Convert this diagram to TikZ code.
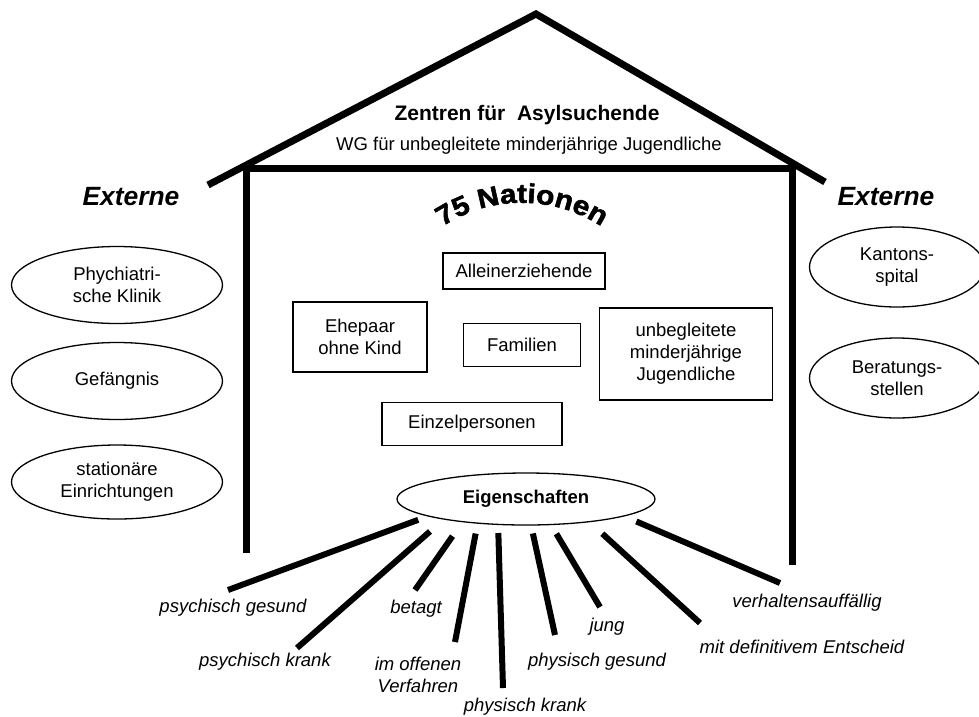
\documentclass[tikz,border=0pt]{standalone}
\usepackage{fontspec}
\setmainfont{Liberation Sans}
\newfontfamily\heavyfont[FakeBold=2,FakeStretch=1.1]{Liberation Sans Bold}
\usetikzlibrary{shapes.geometric,decorations.text}

\newcommand{\txtsize}{\fontsize{18.5}{22}\selectfont}

\begin{document}
\begin{tikzpicture}[x=1pt, y=-1pt, every node/.style={font=\txtsize},
	wall/.style={line width=7pt, line join=miter},
	grp/.style={draw, line width=1.8pt, inner sep=0pt, align=center},
	ext/.style={ellipse, draw, line width=1.3pt, inner sep=0pt, align=center, minimum width=211pt, minimum height=77pt},
	spoke/.style={line width=6pt},
	merkmal/.style={font=\txtsize\itshape, align=center}]
	\useasboundingbox (0,0) rectangle (979,716);
	% Haus
	\draw[wall] (208,185) -- (536,14) -- (825,182);
	\draw[wall] (246,553) -- (246,168) -- (792,168) -- (792,565);
	\node[font=\fontsize{21}{25}\selectfont\bfseries] (zentren) at (527,115) {Zentren für\ \ Asylsuchende};
	\node (wg) at (529,146) {WG für unbegleitete minderjährige Jugendliche};
	\path[decorate, decoration={text along path, text align=center,
		text={|\fontsize{27}{27}\heavyfont|75 Nationen}}]
		(438.8,229) arc[start angle=125, end angle=55, radius=145pt];
	% Gruppen
	\node[grp, minimum width=162pt, minimum height=36pt] (allein) at (524,271) {Alleinerziehende};
	\node[grp, minimum width=134pt, minimum height=70pt] (ehepaar) at (360,337) {Ehepaar\\ohne Kind};
	\node[grp, minimum width=117pt, minimum height=43pt] (familien) at (522,345) {Familien};
	\node[grp, minimum width=180pt, minimum height=43pt] (einzel) at (472,424) {Einzelpersonen};
	\node[grp, minimum width=173pt, minimum height=92pt] (umj) at (686,354) {unbegleitete\\minderjährige\\Jugendliche};
	% Externe
	\node[font=\fontsize{26.4}{30}\selectfont\bfseries\itshape] (extL) at (131,197) {Externe};
	\node[font=\fontsize{26.4}{30}\selectfont\bfseries\itshape] (extR) at (886,197) {Externe};
	\node[ext] (psych) at (117,285) {Phychiatri-\\sche Klinik};
	\node[ext] (gef) at (117,381) {Gefängnis};
	\node[ext, minimum height=74pt] (stat) at (117,482) {stationäre\\Einrichtungen};
	\node[ext, minimum width=175pt, minimum height=80pt] (spital) at (897,267) {Kantons-\\spital};
	\node[ext, minimum width=175pt, minimum height=80pt] (berat) at (897,378) {Beratungs-\\stellen};
	% Eigenschaften
	\node[ellipse, draw, line width=1.3pt, inner sep=0pt, minimum width=258pt, minimum height=52pt, font=\txtsize\bfseries] (eig) at (526,499) {Eigenschaften};
	\coordinate (s1) at (228,590);
	\coordinate (s2) at (297,648);
	\coordinate (s3) at (415,590);
	\coordinate (s4) at (455,642);
	\coordinate (s5) at (503,688);
	\coordinate (s6) at (555,635);
	\coordinate (s7) at (600,607);
	\coordinate (s8) at (700,623);
	\coordinate (s9) at (780,583);
	\foreach \ang/\gap/\tip in {190/10/s1, 194/18/s2, 200/17/s3, 207/10/s4, 223/8/s5, 281/8/s6, 314/10/s7, 340/17/s8, 350/13/s9}
		\draw[spoke, shorten <=\gap pt] (eig.\ang) -- (\tip);
	\node[merkmal] (m1) at (233,608) {psychisch gesund};
	\node[merkmal] (m2) at (265,662) {psychisch krank};
	\node[merkmal] (m3) at (416,609) {betagt};
	\node[merkmal] (m4) at (418,675) {im offenen\\Verfahren};
	\node[merkmal] (m5) at (525,707) {physisch krank};
	\node[merkmal] (m6) at (597,662) {physisch gesund};
	\node[merkmal] (m7) at (607,627) {jung};
	\node[merkmal] (m8) at (807,603) {verhaltensauffällig};
	\node[merkmal] (m9) at (802,647) {mit definitivem Entscheid};
\end{tikzpicture}
\end{document}
